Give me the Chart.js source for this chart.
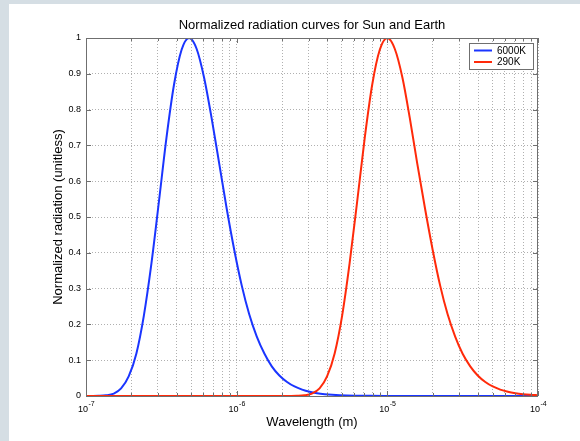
<!DOCTYPE html>
<html>
<head>
<meta charset="utf-8">
<title>Normalized radiation curves for Sun and Earth</title>
<script src="https://cdn.jsdelivr.net/npm/chart.js@4.4.1/dist/chart.umd.min.js"></script>
<style>
  html, body { margin: 0; padding: 0; background: #d5dee4; overflow: hidden; }
  #panel { position: absolute; left: 9px; top: 4px; right: 0; bottom: 0; background: #fff; }
  #chart { position: absolute; left: 0; top: 0; }
</style>
</head>
<body>
<div id="panel"></div>
<canvas id="chart" width="580" height="441"></canvas>
<script>
var FONT = "'Liberation Sans', Arial, Helvetica, sans-serif";

// wavelength (m) and normalized radiation
var sunWavelength = [1.00e-7, 1.08e-7, 1.21e-7, 1.36e-7, 1.53e-7, 1.71e-7, 1.92e-7, 2.16e-7, 2.42e-7, 2.72e-7,
  3.05e-7, 3.42e-7, 3.84e-7, 4.31e-7, 4.83e-7, 5.42e-7, 6.08e-7, 6.82e-7, 7.66e-7, 8.59e-7,
  9.64e-7, 1.08e-6, 1.21e-6, 1.36e-6, 1.53e-6, 1.71e-6, 1.92e-6, 2.16e-6, 2.42e-6, 2.72e-6,
  3.05e-6, 3.42e-6, 3.84e-6, 4.31e-6, 4.83e-6, 6.08e-6, 7.66e-6, 9.64e-6, 1.53e-5, 1.00e-4];
var sunRadiation = [0, 0.0001, 0.0004, 0.0018, 0.0068, 0.0212, 0.0546, 0.119, 0.224, 0.371,
  0.544, 0.721, 0.870, 0.967, 1.000, 0.970, 0.889, 0.776, 0.649, 0.523,
  0.408, 0.309, 0.229, 0.166, 0.118, 0.0829, 0.0574, 0.0392, 0.0266, 0.0179,
  0.0119, 0.0079, 0.0052, 0.0034, 0.0022, 0.0009, 0.0004, 0.0002, 0.00003, 0];

var earthWavelength = [1.00e-7, 2.00e-6, 2.24e-6, 2.51e-6, 2.82e-6, 3.16e-6, 3.55e-6, 3.98e-6, 4.47e-6, 5.01e-6,
  5.62e-6, 6.31e-6, 7.08e-6, 7.94e-6, 8.91e-6, 1.00e-5, 1.12e-5, 1.26e-5, 1.41e-5, 1.58e-5,
  1.78e-5, 2.00e-5, 2.24e-5, 2.51e-5, 2.82e-5, 3.16e-5, 3.55e-5, 3.98e-5, 4.47e-5, 5.01e-5,
  5.62e-5, 6.31e-5, 7.08e-5, 7.94e-5, 8.91e-5, 1.00e-4];
var earthRadiation = [0, 0, 0.0001, 0.0004, 0.0018, 0.0068, 0.0212, 0.0546, 0.119, 0.224,
  0.371, 0.544, 0.721, 0.870, 0.967, 1.000, 0.970, 0.889, 0.776, 0.649,
  0.523, 0.408, 0.309, 0.229, 0.166, 0.118, 0.0829, 0.0574, 0.0392, 0.0266,
  0.0179, 0.0119, 0.0079, 0.0052, 0.0034, 0.0022];

var seriesLabels = ["6000K", "290K"];
var seriesColors = ["#1a35ff", "#ff2a0a"];

// x axis decades: labels are 10 with these exponents
var xDecades = [-7, -6, -5, -4];
var xTickExponents = ["-7", "-6", "-5", "-4"];

function toPoints(xs, ys) {
    return xs.map(function (x, i) { return { x: x, y: ys[i] }; });
}

function decadeIndex(value) {
    var e = Math.log10(value);
    if (Math.abs(e - Math.round(e)) > 1e-6) return -1;
    return xDecades.indexOf(Math.round(e));
}

// box round the axes with small inward ticks, like the original
var axesBox = {
    id: "axesBox",
    afterDatasetsDraw: function (chart) {
        var a = chart.chartArea, ctx = chart.ctx;
        var xs = chart.scales.x, ys = chart.scales.y;
        ctx.save();
        ctx.strokeStyle = "#6f6f6f";
        ctx.lineWidth = 1;
        ctx.beginPath();
        xs.ticks.forEach(function (t) {
            var px = Math.round(xs.getPixelForValue(t.value)) + 0.5;
            var len = decadeIndex(t.value) >= 0 ? 5 : 3;
            ctx.moveTo(px, a.bottom); ctx.lineTo(px, a.bottom - len);
            ctx.moveTo(px, a.top); ctx.lineTo(px, a.top + len);
        });
        ys.ticks.forEach(function (t) {
            var py = Math.round(ys.getPixelForValue(t.value)) + 0.5;
            ctx.moveTo(a.left, py); ctx.lineTo(a.left + 5, py);
            ctx.moveTo(a.right, py); ctx.lineTo(a.right - 5, py);
        });
        ctx.stroke();
        ctx.strokeRect(a.left + 0.5, a.top + 0.5, a.right - a.left - 1, a.bottom - a.top);
        ctx.restore();
    }
};

// x tick labels written as 10 with a raised exponent
var xTickText = {
    id: "xTickText",
    afterDraw: function (chart) {
        var ctx = chart.ctx, xs = chart.scales.x, a = chart.chartArea;
        ctx.save();
        ctx.fillStyle = "#000";
        ctx.textBaseline = "alphabetic";
        ctx.textAlign = "left";
        xDecades.forEach(function (e, i) {
            var px = xs.getPixelForValue(Math.pow(10, e));
            ctx.font = "9px " + FONT;
            var wBase = ctx.measureText("10").width;
            ctx.font = "7px " + FONT;
            var wExp = ctx.measureText(xTickExponents[i]).width;
            var x0 = px - (wBase + wExp) / 2;
            ctx.font = "9px " + FONT;
            ctx.fillText("10", x0, a.bottom + 16);
            ctx.font = "7px " + FONT;
            ctx.fillText(xTickExponents[i], x0 + wBase + 0.5, a.bottom + 10);
        });
        ctx.restore();
    }
};

// legend inside the top right corner of the plot
var legendBox = {
    id: "legendBox",
    afterDraw: function (chart) {
        var a = chart.chartArea, ctx = chart.ctx;
        var w = 64, h = 26;
        var x0 = a.right - 5 - w, y0 = a.top + 5;
        ctx.save();
        ctx.fillStyle = "#fff";
        ctx.fillRect(x0, y0, w, h);
        ctx.strokeStyle = "#6f6f6f";
        ctx.lineWidth = 1;
        ctx.strokeRect(x0 + 0.5, y0 + 0.5, w, h);
        ctx.font = "10px " + FONT;
        ctx.textBaseline = "middle";
        chart.data.datasets.forEach(function (ds, i) {
            var y = y0 + 7.5 + i * 11.5;
            ctx.strokeStyle = ds.borderColor;
            ctx.lineWidth = 2;
            ctx.beginPath();
            ctx.moveTo(x0 + 5, y);
            ctx.lineTo(x0 + 23, y);
            ctx.stroke();
            ctx.fillStyle = "#000";
            ctx.fillText(ds.label, x0 + 28, y + 0.5);
        });
        ctx.restore();
    }
};

var gridStyle = { color: "#b0b0b0", lineWidth: 1, drawTicks: false };

var ctx = document.getElementById("chart");
var chart = new Chart(ctx, {
    type: "line",
    data: {
        datasets: [
            {
                label: seriesLabels[0],
                data: toPoints(sunWavelength, sunRadiation),
                borderColor: seriesColors[0],
                order: 1
            },
            {
                label: seriesLabels[1],
                data: toPoints(earthWavelength, earthRadiation),
                borderColor: seriesColors[1],
                order: 0
            }
        ]
    },
    options: {
        responsive: false,
        animation: false,
        devicePixelRatio: 1,
        layout: { padding: { left: 44, right: 0, top: 0, bottom: 0 } },
        elements: {
            point: { radius: 0 },
            line: { borderWidth: 2, cubicInterpolationMode: "monotone", fill: false }
        },
        scales: {
            x: {
                type: "logarithmic",
                min: 1e-7,
                max: 1e-4,
                grid: gridStyle,
                border: { display: false, dash: [1, 2] },
                afterBuildTicks: function (scale) {
                    var ticks = [];
                    xDecades.forEach(function (e, i) {
                        var last = i === xDecades.length - 1;
                        for (var m = 1; m <= (last ? 1 : 9); m++) {
                            ticks.push({ value: m * Math.pow(10, e) });
                        }
                    });
                    scale.ticks = ticks;
                },
                afterFit: function (scale) { scale.height = 45; },
                ticks: { display: false, autoSkip: false },
                title: {
                    display: true,
                    text: "Wavelength (m)",
                    color: "#000",
                    font: { family: FONT, size: 13 },
                    padding: { top: 0, bottom: 11 }
                }
            },
            y: {
                min: 0,
                max: 1,
                grid: gridStyle,
                border: { display: false, dash: [1, 2] },
                afterFit: function (scale) { scale.width = 42; },
                ticks: {
                    stepSize: 0.1,
                    padding: 5,
                    color: "#000",
                    font: { family: FONT, size: 9 },
                    callback: function (v) { return String(Math.round(v * 10) / 10); }
                },
                title: {
                    display: true,
                    text: "Normalized radiation (unitless)",
                    color: "#000",
                    font: { family: FONT, size: 13 },
                    padding: { top: 7, bottom: 0 }
                }
            },
            // empty right-hand strip so the title centres over the plot
            yRight: {
                position: "right",
                min: 0,
                max: 1,
                grid: { display: false },
                border: { display: false },
                ticks: { display: false },
                afterFit: function (scale) { scale.width = 42; }
            }
        },
        plugins: {
            legend: { display: false },
            tooltip: { enabled: false },
            title: {
                display: true,
                text: "Normalized radiation curves for Sun and Earth",
                color: "#000",
                font: { family: FONT, size: 13, weight: "normal" },
                padding: { top: 18, bottom: 4.4 }
            }
        }
    },
    plugins: [axesBox, xTickText, legendBox]
});
</script>
</body>
</html>
